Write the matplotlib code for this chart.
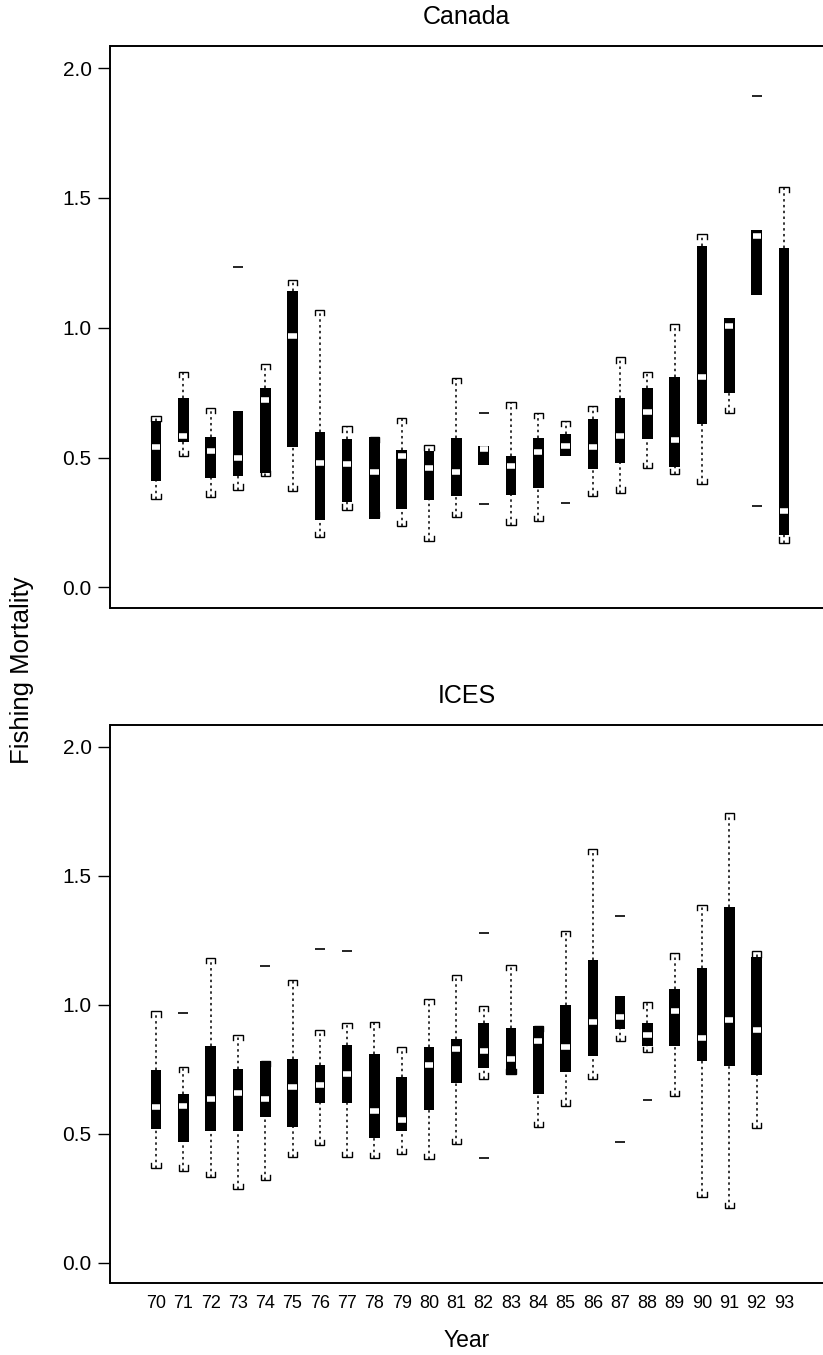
import numpy as np
import matplotlib
matplotlib.use("Agg")
import matplotlib.pyplot as plt

nan = np.nan
years = ["70", "71", "72", "73", "74", "75", "76", "77", "78", "79", "80", "81",
         "82", "83", "84", "85", "86", "87", "88", "89", "90", "91", "92", "93"]

# Canada
canada_hi = [0.66, 0.83, 0.69, nan, 0.86, 1.185, 1.07, 0.62, 0.58, 0.652, 0.55, 0.806,
             nan, 0.713, 0.672, 0.64, 0.70, 0.886, 0.83, 1.013, 1.363, nan, nan, 1.543]
canada_q3 = [0.64, 0.73, 0.58, 0.68, 0.77, 1.14, 0.60, 0.57, 0.58, 0.53, 0.524, 0.574,
             0.546, 0.505, 0.574, 0.59, 0.649, 0.73, 0.767, 0.812, 1.316, 1.039, 1.377, 1.309]
canada_med = [0.54, 0.585, 0.525, 0.50, 0.72, 0.97, 0.48, 0.477, 0.443, 0.505, 0.46, 0.446,
              0.533, 0.469, 0.52, 0.546, 0.542, 0.585, 0.677, 0.568, 0.812, 1.008, 1.354, 0.294]
canada_q1 = [0.41, 0.56, 0.42, 0.43, 0.44, 0.54, 0.26, 0.33, 0.265, 0.303, 0.338, 0.354,
             0.473, 0.358, 0.383, 0.505, 0.457, 0.478, 0.571, 0.464, 0.63, 0.748, 1.127, 0.202]
canada_lo = [0.34, 0.505, 0.35, 0.377, 0.43, 0.37, 0.195, 0.30, 0.27, 0.236, 0.178, 0.27,
             nan, 0.242, 0.255, nan, 0.351, 0.365, 0.46, 0.436, 0.398, 0.67, nan, 0.173]
canada_out = {3: [1.235], 12: [0.672, 0.323], 15: [0.326], 22: [1.893, 0.312]}

# ICES
ices_hi = [0.974, 0.76, 1.183, 0.884, 0.783, 1.096, 0.902, 0.931, 0.935, 0.835, 1.022, 1.116,
           0.996, 1.154, 0.919, 1.287, 1.606, nan, 1.009, 1.199, 1.388, 1.742, 1.207, nan]
ices_q3 = [0.747, 0.654, 0.841, 0.751, 0.783, 0.79, 0.767, 0.845, 0.809, 0.718, 0.837, 0.867,
           0.929, 0.91, 0.919, 1.0, 1.174, 1.035, 0.931, 1.061, 1.141, 1.38, 1.186, nan]
ices_med = [0.602, 0.606, 0.634, 0.658, 0.634, 0.683, 0.689, 0.731, 0.587, 0.553, 0.767, 0.827,
            0.822, 0.79, 0.86, 0.837, 0.935, 0.953, 0.884, 0.974, 0.871, 0.941, 0.903, nan]
ices_q1 = [0.518, 0.466, 0.512, 0.512, 0.563, 0.525, 0.618, 0.618, 0.483, 0.509, 0.592, 0.695,
           0.755, 0.727, 0.654, 0.74, 0.802, 0.906, 0.841, 0.839, 0.783, 0.761, 0.729, nan]
ices_lo = [0.367, 0.357, 0.333, 0.286, 0.32, 0.408, 0.457, 0.408, 0.404, 0.421, 0.402, 0.46,
           0.714, 0.73, 0.525, 0.609, 0.712, 0.858, 0.815, 0.647, 0.253, 0.212, 0.522, nan]
ices_out = {1: [0.968], 4: [1.149], 6: [1.218], 7: [1.209], 12: [1.278, 0.404],
            17: [1.345, 0.466], 18: [0.632]}

yticks = [0.0, 0.5, 1.0, 1.5, 2.0]

plt.rcParams['font.family'] = ['Liberation Sans', 'DejaVu Sans']

W, H = 823, 1355
fig = plt.figure(figsize=(W / 100, H / 100), dpi=100)

left = 110.5 / W
width = 1.0 - left
ax1 = fig.add_axes([left, (H - 608) / H, width, 562 / H])
ax2 = fig.add_axes([left, (H - 1283) / H, width, 558 / H])

BOXW = 0.39
CAPW = 0.17
CAPH = 0.02
MEDW = 0.15


def draw(ax, hi, q3, med, q1, lo, outl, title):
    n = len(years)
    pos = np.arange(n)
    for i in range(n):
        p = pos[i]
        if np.isnan(q3[i]):
            continue
        if not np.isnan(hi[i]):
            ax.vlines(p, q3[i], hi[i], colors='black', linewidth=1.1,
                      linestyles=(0, (1.6, 2.2)), zorder=1)
            ax.plot([p - CAPW, p - CAPW, p + CAPW, p + CAPW],
                    [hi[i] - CAPH, hi[i], hi[i], hi[i] - CAPH],
                    color='black', lw=1.0, solid_joinstyle='miter', zorder=3)
        if not np.isnan(lo[i]):
            ax.vlines(p, lo[i], q1[i], colors='black', linewidth=1.1,
                      linestyles=(0, (1.6, 2.2)), zorder=1)
            ax.plot([p - CAPW, p - CAPW, p + CAPW, p + CAPW],
                    [lo[i] + CAPH, lo[i], lo[i], lo[i] + CAPH],
                    color='black', lw=1.0, solid_joinstyle='miter', zorder=3)
    ok = ~np.isnan(np.array(q3, dtype=float))
    q3a = np.array(q3, dtype=float)[ok]
    q1a = np.array(q1, dtype=float)[ok]
    ax.bar(pos[ok], q3a - q1a, bottom=q1a, width=BOXW, color='black', zorder=2)
    meda = np.array(med, dtype=float)[ok]
    ax.hlines(meda, pos[ok] - MEDW, pos[ok] + MEDW, colors='white', linewidth=4.0,
              capstyle='butt', zorder=4)
    for i, vals in outl.items():
        ax.hlines(vals, pos[i] - 0.18, pos[i] + 0.18, colors='black', linewidth=1.2, zorder=3)

    ax.set_xlim(-1.667, 24.43)
    ax.set_ylim(-0.079, 2.085)
    ax.set_yticks(yticks)
    ax.set_yticklabels([f"{v:.1f}" for v in yticks])
    ax.tick_params(axis='y', length=8.5, width=1.0, pad=5, labelsize=15)
    ax.set_xticks(pos)
    ax.tick_params(axis='x', length=0, pad=9, labelsize=13)
    ax.spines['right'].set_visible(False)
    for s in ['left', 'top', 'bottom']:
        ax.spines[s].set_linewidth(1.4)
    ax.set_title(title, fontsize=18, pad=16)


draw(ax1, canada_hi, canada_q3, canada_med, canada_q1, canada_lo, canada_out, "Canada")
draw(ax2, ices_hi, ices_q3, ices_med, ices_q1, ices_lo, ices_out, "ICES")

ax1.set_xticklabels([])
ax2.set_xticklabels(years)
ax2.set_xlabel("Year", fontsize=16.5, labelpad=12)

fig.text(22 / W, 1 - 670 / H, "Fishing Mortality", rotation=90, fontsize=18.5,
         ha='center', va='center')

fig.savefig("out.png", dpi=100)
